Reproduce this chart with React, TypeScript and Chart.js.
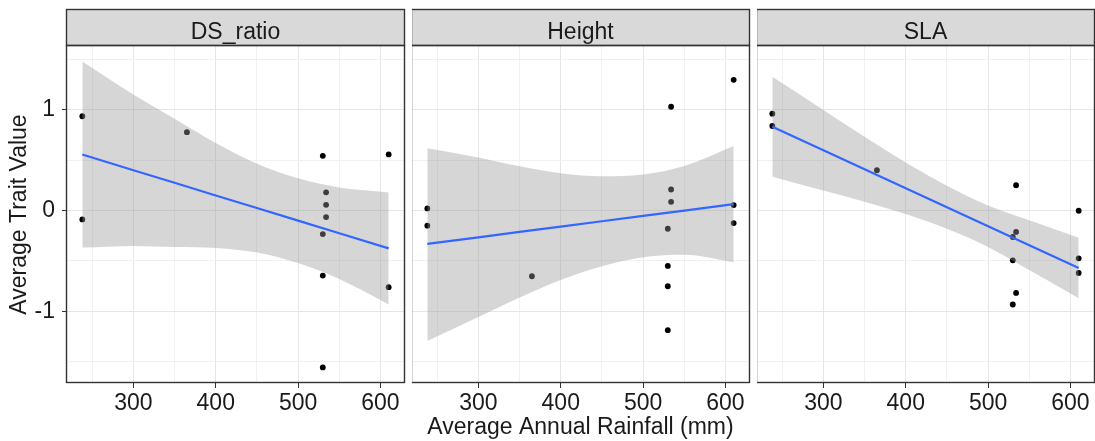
import React, { useEffect, useRef } from "react";
import { Chart, registerables } from "chart.js";

Chart.register(...registerables);

const FONT = "'Liberation Sans', Arial, Helvetica, sans-serif";

// ---- axes ----
const X_MIN = 219.4;
const X_MAX = 628.6;
const Y_MIN = -1.71;
const Y_MAX = 1.63;
const X_TICKS = [250, 300, 350, 400, 450, 500, 550, 600];
const X_TICK_LABELS = ["", "300", "", "400", "", "500", "", "600"];
const Y_TICKS = [-1.5, -1, -0.5, 0, 0.5, 1, 1.5];
const Y_TICK_LABELS = ["", "-1", "", "0", "", "1", ""];

const FACETS = ["DS_ratio", "Height", "SLA"];
const X_TITLE = "Average Annual Rainfall (mm)";
const Y_TITLE = "Average Trait Value";

// ---- observations ----
const DS_RAIN = [238, 238, 365, 530, 534, 534, 534, 530, 530, 530, 610, 610];
const DS_VALUE = [0.934, -0.089, 0.776, 0.542, 0.18, 0.056, -0.066, -0.234, -0.645, -1.556, 0.555, -0.76];

const HEIGHT_RAIN = [238, 238, 365, 534, 534, 534, 530, 530, 530, 530, 610, 610, 610];
const HEIGHT_VALUE = [0.02, -0.151, -0.652, 1.028, 0.208, 0.086, -0.181, -0.55, -0.751, -1.186, 1.295, 0.053, -0.125];

const SLA_RAIN = [238, 238, 365, 534, 534, 530, 530, 534, 530, 610, 610, 610];
const SLA_VALUE = [0.959, 0.837, 0.399, 0.25, -0.213, -0.263, -0.494, -0.817, -0.932, -0.003, -0.474, -0.619];

// ---- fitted line and confidence band ----
const FIT_RAIN = [238, 300, 350, 400, 450, 500, 550, 610];

const DS_FIT = [0.554, 0.399, 0.274, 0.149, 0.024, -0.101, -0.226, -0.376];
const DS_UPPER = [1.476, 1.149, 0.909, 0.669, 0.464, 0.319, 0.228, 0.179];
const DS_LOWER = [-0.368, -0.351, -0.361, -0.371, -0.416, -0.521, -0.68, -0.931];

const HEIGHT_FIT = [-0.332, -0.266, -0.213, -0.16, -0.107, -0.054, -0.001, 0.063];
const HEIGHT_UPPER = [0.617, 0.524, 0.437, 0.368, 0.338, 0.356, 0.44, 0.639];
const HEIGHT_LOWER = [-1.294, -1.056, -0.863, -0.688, -0.552, -0.464, -0.44, -0.514];

const SLA_FIT = [0.83, 0.597, 0.409, 0.22, 0.032, -0.156, -0.344, -0.57];
const SLA_UPPER = [1.325, 0.996, 0.731, 0.476, 0.246, 0.05, -0.097, -0.27];
const SLA_LOWER = [0.335, 0.198, 0.087, -0.036, -0.182, -0.362, -0.591, -0.87];

const SERIES = [
  { rain: DS_RAIN, value: DS_VALUE, fit: DS_FIT, upper: DS_UPPER, lower: DS_LOWER },
  { rain: HEIGHT_RAIN, value: HEIGHT_VALUE, fit: HEIGHT_FIT, upper: HEIGHT_UPPER, lower: HEIGHT_LOWER },
  { rain: SLA_RAIN, value: SLA_VALUE, fit: SLA_FIT, upper: SLA_UPPER, lower: SLA_LOWER },
];

// ---- layout (page pixels) ----
const PAGE_W = 1095;
const PAGE_H = 441;
const STRIP_TOP = 9;
const PANEL_TOP = 46;
const X_AXIS_H = 58;
const LAYOUT = [
  { left: 0, width: 410, axisW: 67, padRight: 6 },
  { left: 412, width: 343, axisW: 0, padRight: 6 },
  { left: 757, width: 338, axisW: 0, padRight: 1 },
];

const TEXT = "#1a1a1a";
const BORDER = "#333333";
const STRIP_FILL = "#d9d9d9";
const GRID_MAJOR = "#e6e6e6";
const GRID_MINOR = "#f1f1f1";
const BAND = "rgba(153,153,153,0.4)";
const LINE = "#3366ff";

const pts = (xs: number[], ys: number[]) => xs.map((x, i) => ({ x, y: ys[i] }));

const facetPlugin = {
  id: "facetStrip",
  afterDraw(chart: any, _args: any, opts: any) {
    const { ctx, chartArea: a } = chart;
    const w = a.right - a.left;
    ctx.save();
    ctx.fillStyle = STRIP_FILL;
    ctx.fillRect(a.left, STRIP_TOP, w, a.top - STRIP_TOP);
    ctx.strokeStyle = BORDER;
    ctx.lineWidth = 1.4;
    ctx.strokeRect(a.left - 0.5, STRIP_TOP + 0.5, w + 1, a.top - STRIP_TOP - 1);
    ctx.strokeRect(a.left - 0.5, a.top - 0.5, w + 1, a.bottom - a.top);
    ctx.fillStyle = TEXT;
    ctx.font = `23px ${FONT}`;
    ctx.textAlign = "center";
    ctx.textBaseline = "alphabetic";
    ctx.fillText(opts.label, (a.left + a.right) / 2, 38.5);
    ctx.restore();
  },
};

function Facet({ idx }: { idx: number }) {
  const ref = useRef<HTMLCanvasElement | null>(null);
  const L = LAYOUT[idx];
  useEffect(() => {
    const s = SERIES[idx];
    const isFirst = idx === 0;
    const chart = new Chart(ref.current as HTMLCanvasElement, {
      type: "line",
      data: {
        datasets: [
          {
            data: pts(FIT_RAIN, s.fit),
            borderColor: LINE,
            borderWidth: 2.2,
            pointRadius: 0,
            tension: 0,
            fill: false,
          },
          {
            data: pts(FIT_RAIN, s.lower),
            borderWidth: 0,
            borderColor: "rgba(0,0,0,0)",
            pointRadius: 0,
            cubicInterpolationMode: "monotone",
            fill: false,
          },
          {
            data: pts(FIT_RAIN, s.upper),
            borderWidth: 0,
            borderColor: "rgba(0,0,0,0)",
            backgroundColor: BAND,
            pointRadius: 0,
            cubicInterpolationMode: "monotone",
            fill: 1,
          },
          {
            data: pts(s.rain, s.value),
            showLine: false,
            pointRadius: 2.9,
            pointBorderWidth: 0,
            pointBackgroundColor: "#000000",
            pointBorderColor: "#000000",
          },
        ],
      } as any,
      options: {
        responsive: false,
        maintainAspectRatio: false,
        animation: false,
        events: [],
        layout: { autoPadding: false, padding: { top: PANEL_TOP, right: L.padRight, left: 0, bottom: 0 } },
        plugins: {
          legend: { display: false },
          tooltip: { enabled: false },
          facetStrip: { label: FACETS[idx] },
        } as any,
        scales: {
          x: {
            type: "linear",
            min: X_MIN,
            max: X_MAX,
            afterBuildTicks: (axis: any) => {
              axis.ticks = X_TICKS.map((v) => ({ value: v }));
            },
            afterFit: (axis: any) => {
              axis.height = X_AXIS_H;
            },
            border: { display: false },
            grid: {
              color: (c: any) => (c.tick && c.tick.value % 100 === 0 ? GRID_MAJOR : GRID_MINOR),
              lineWidth: 1,
              drawTicks: true,
              tickLength: 5,
              tickWidth: 1,
              tickColor: (c: any) => (c.tick && c.tick.value % 100 === 0 ? BORDER : "rgba(0,0,0,0)"),
            },
            ticks: {
              autoSkip: false,
              maxRotation: 0,
              minRotation: 0,
              padding: 2,
              color: TEXT,
              font: { family: FONT, size: 23 },
              callback: (v: any) => X_TICK_LABELS[X_TICKS.indexOf(Number(v))] ?? "",
            },
            title: {
              display: idx === 1,
              text: X_TITLE,
              color: TEXT,
              font: { family: FONT, size: 23 },
              padding: { top: 0, bottom: 0 },
            },
          },
          y: {
            type: "linear",
            min: Y_MIN,
            max: Y_MAX,
            afterBuildTicks: (axis: any) => {
              axis.ticks = Y_TICKS.map((v) => ({ value: v }));
            },
            afterFit: (axis: any) => {
              axis.width = L.axisW;
            },
            border: { display: false },
            grid: {
              color: (c: any) => (c.tick && Number.isInteger(c.tick.value) ? GRID_MAJOR : GRID_MINOR),
              lineWidth: 1,
              drawTicks: isFirst,
              tickLength: 5,
              tickWidth: 1,
              tickColor: (c: any) => (c.tick && Number.isInteger(c.tick.value) ? BORDER : "rgba(0,0,0,0)"),
            },
            ticks: {
              display: isFirst,
              padding: 7,
              color: TEXT,
              font: { family: FONT, size: 23 },
              callback: (v: any) => Y_TICK_LABELS[Y_TICKS.indexOf(Number(v))] ?? "",
            },
            title: {
              display: isFirst,
              text: Y_TITLE,
              color: TEXT,
              font: { family: FONT, size: 23 },
              padding: { top: 6, bottom: 0 },
            },
          },
        },
      } as any,
      plugins: [facetPlugin],
    });
    return () => chart.destroy();
  }, [idx]);
  return (
    <canvas
      ref={ref}
      width={L.width}
      height={PAGE_H}
      style={{ position: "absolute", left: L.left, top: 0, width: L.width, height: PAGE_H }}
    />
  );
}

export default function App() {
  return (
    <div
      style={{
        position: "absolute",
        left: 0,
        top: 0,
        width: PAGE_W,
        height: PAGE_H,
        background: "#ffffff",
        overflow: "hidden",
      }}
    >
      {FACETS.map((_, i) => (
        <Facet key={i} idx={i} />
      ))}
    </div>
  );
}
